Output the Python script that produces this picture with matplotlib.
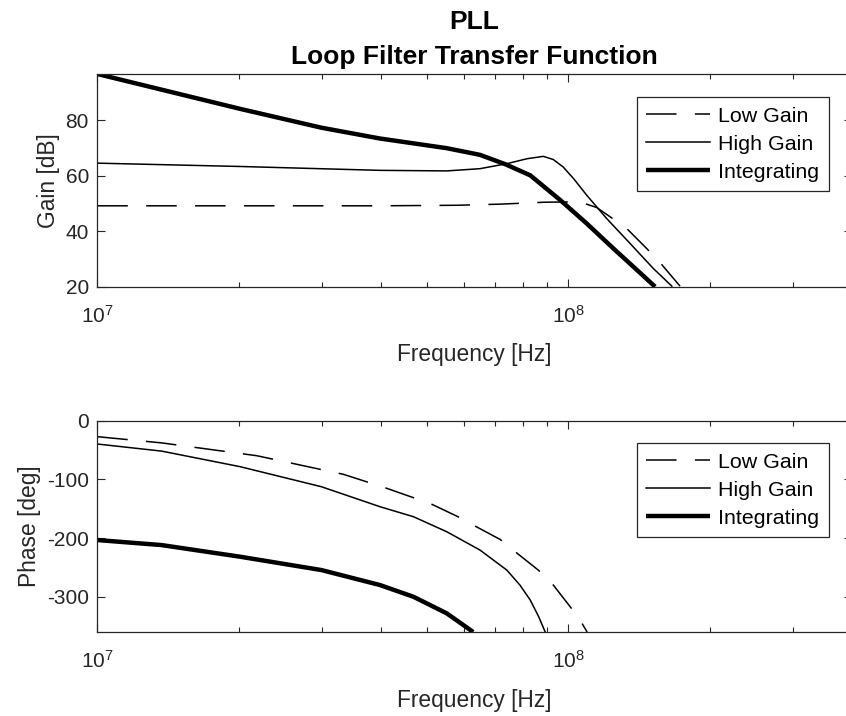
import numpy as np
import matplotlib.pyplot as plt

# Values (frequency in Hz)
gain_low_f = [1.0e7, 3.98e7, 5.83e7, 7.16e7, 8.91e7, 1.0e8, 1.084e8, 1.148e8,
              1.227e8, 1.330e8, 1.466e8, 1.567e8, 1.726e8]
gain_low_db = [49.2, 49.2, 49.4, 49.8, 50.5, 50.6, 50.0, 48.6,
               45.2, 41.0, 33.8, 28.6, 20.2]

gain_high_f = [1.0e7, 2.01e7, 3.98e7, 5.52e7, 6.49e7, 7.40e7, 8.17e7, 8.85e7,
               9.29e7, 9.75e7, 1.026e8, 1.094e8, 1.206e8, 1.352e8, 1.514e8, 1.658e8]
gain_high_db = [64.6, 63.4, 62.0, 61.8, 62.6, 64.4, 66.2, 67.05,
                65.9, 63.2, 59.0, 53.0, 44.6, 35.6, 26.6, 20.2]

gain_int_f = [1.0e7, 2.01e7, 2.99e7, 3.98e7, 5.52e7, 6.49e7, 7.35e7, 8.30e7,
              9.62e7, 1.094e8, 1.246e8, 1.374e8, 1.528e8]
gain_int_db = [96.8, 84.2, 77.4, 73.5, 70.0, 67.6, 64.2, 60.2,
               51.2, 42.8, 33.8, 27.2, 20.0]

phase_low_f = [1.0e7, 1.37e7, 2.18e7, 3.33e7, 4.08e7, 4.69e7, 5.08e7, 5.83e7,
               6.28e7, 7.16e7, 7.71e7, 8.63e7, 9.23e7, 1.009e8, 1.064e8, 1.096e8]
phase_low_deg = [-27.4, -38.0, -59.8, -91.5, -114.3, -131.3, -140.9, -163.7,
                 -177.9, -202.3, -223.3, -254.5, -277.2, -317.0, -342.6, -360.0]

phase_high_f = [1.0e7, 1.37e7, 2.01e7, 2.99e7, 3.98e7, 4.69e7, 5.52e7, 6.49e7,
                7.40e7, 7.89e7, 8.30e7, 8.65e7, 8.93e7]
phase_high_deg = [-39.9, -52.0, -78.5, -112.6, -146.6, -163.7, -189.3, -220.4,
                  -254.5, -280.0, -305.6, -334.0, -360.0]

phase_int_f = [1.0e7, 1.37e7, 2.01e7, 2.99e7, 3.98e7, 4.69e7, 5.52e7, 6.28e7]
phase_int_deg = [-203.4, -212.0, -231.8, -254.5, -280.0, -300.0, -328.3, -360.0]

series_names = ["Low Gain", "High Gain", "Integrating"]
gain_ticks = [20, 40, 60, 80]
phase_ticks = [-300, -200, -100, 0]

plt.rcParams['font.family'] = ['Liberation Sans', 'DejaVu Sans']
plt.rcParams['mathtext.fontset'] = 'custom'
plt.rcParams['mathtext.rm'] = 'Liberation Sans'
plt.rcParams['mathtext.it'] = 'Liberation Sans'
plt.rcParams['axes.unicode_minus'] = False
dark = (0.15, 0.15, 0.15)
tick_fs = 15
label_fs = 16.4
legend_fs = 15.4
title_fs = 19

fig = plt.figure(figsize=(8.46, 7.16), dpi=100)
ax1 = fig.add_axes([0.115, 0.5996, 0.8921, 0.2971])
ax2 = fig.add_axes([0.115, 0.1173, 0.8921, 0.2953])

styles = [dict(color='k', lw=1.1, dashes=(20, 12)),
          dict(color='k', lw=1.1),
          dict(color='k', lw=3.2, solid_capstyle='butt')]

gain_data = [(gain_low_f, gain_low_db), (gain_high_f, gain_high_db), (gain_int_f, gain_int_db)]
phase_data = [(phase_low_f, phase_low_deg), (phase_high_f, phase_high_deg), (phase_int_f, phase_int_deg)]

for (f, v), name, st in zip(gain_data, series_names, styles):
    ax1.plot(f, v, label=name, **st)
for (f, v), name, st in zip(phase_data, series_names, styles):
    ax2.plot(f, v, label=name, **st)

ax1.set_ylim(20, 96.8)
ax1.set_yticks(gain_ticks)
ax1.set_ylabel("Gain [dB]", fontsize=label_fs, color=dark)
ax2.set_ylim(-360, 0)
ax2.set_yticks(phase_ticks)
ax2.set_ylabel("Phase [deg]", fontsize=label_fs, color=dark)

legend_tops = [97, 443]  # pixel rows of the legend box tops
for ax, top in zip((ax1, ax2), legend_tops):
    ax.set_xscale('log')
    ax.set_xlim(1e7, 4e8)
    ax.set_xlabel("Frequency [Hz]", fontsize=label_fs, color=dark, labelpad=12)
    ax.tick_params(which='both', direction='in', top=True, right=True,
                   colors=dark, labelsize=tick_fs, width=0.8)
    ax.tick_params(which='major', length=6, pad=6)
    ax.tick_params(which='minor', length=3.5)
    ax.tick_params(axis='x', which='major', pad=13)
    for sp in ax.spines.values():
        sp.set_color(dark)
        sp.set_linewidth(0.9)
    leg = ax.legend(loc='upper right', fontsize=legend_fs, handlelength=3.0,
                    handletextpad=0.37, labelspacing=0.42, borderpad=0.45,
                    fancybox=False, framealpha=1, borderaxespad=0,
                    bbox_to_anchor=(829 / 846, 1 - top / 716),
                    bbox_transform=fig.transFigure)
    leg.get_frame().set_edgecolor(dark)
    leg.get_frame().set_linewidth(0.9)

ax1.set_title("PLL\nLoop Filter Transfer Function", fontsize=title_fs,
              fontweight='bold', linespacing=1.6, pad=7)

fig.savefig("out.png", dpi=100)
